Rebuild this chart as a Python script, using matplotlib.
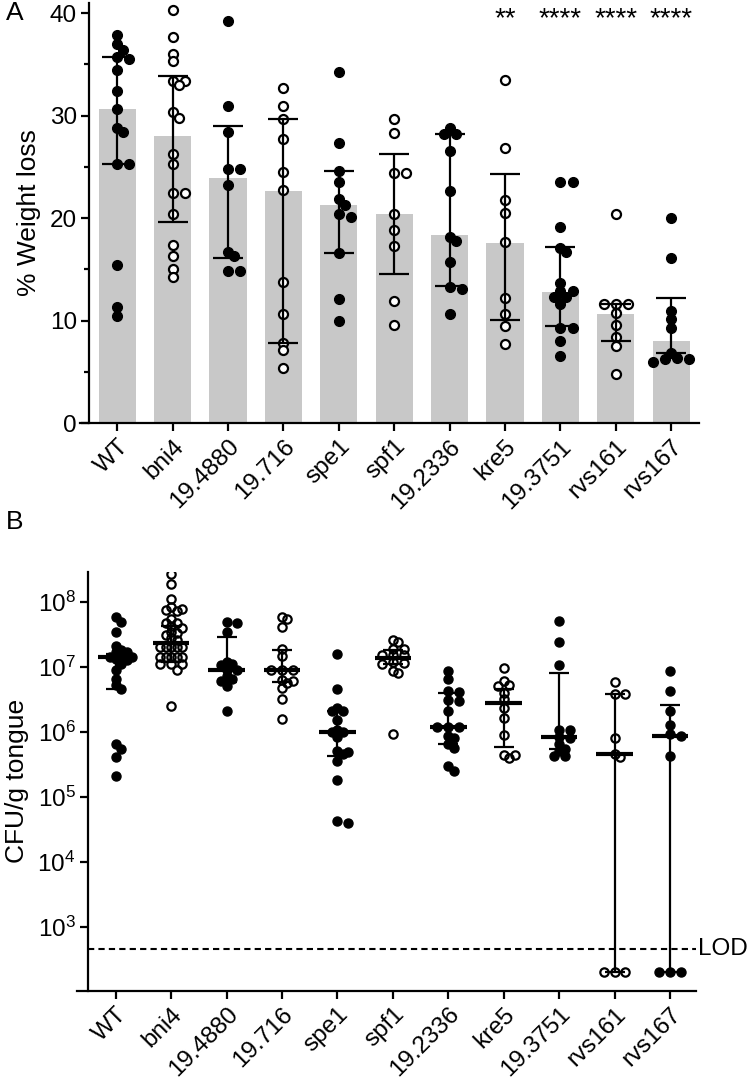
import numpy as np
import matplotlib
matplotlib.use('Agg')
import matplotlib.pyplot as plt
from matplotlib.ticker import MultipleLocator, NullLocator

plt.rcParams['font.family'] = ['Liberation Sans', 'DejaVu Sans']
plt.rcParams['mathtext.fontset'] = 'custom'
plt.rcParams['mathtext.rm'] = 'Liberation Sans'
plt.rcParams['mathtext.it'] = 'Liberation Sans:italic'

strains = ['WT', 'bni4', '19.4880', '19.716', 'spe1', 'spf1',
           '19.2336', 'kre5', '19.3751', 'rvs161', 'rvs167']
filled = [True, False, True, False, True, False, True, False, True, False, True]

# panel A: % weight loss per mouse
loss_wt = [37.9, 37.0, 36.4, 35.7, 35.5, 34.5, 32.4, 30.7, 28.8, 28.4, 25.3, 25.3, 15.4, 11.3, 10.4]
loss_bni4 = [40.3, 37.7, 36.0, 35.3, 33.4, 33.4, 33.0, 30.4, 29.8, 26.3, 25.3, 22.5, 22.5,
             20.4, 17.4, 16.3, 15.0, 14.3]
loss_4880 = [39.2, 30.9, 28.4, 24.8, 24.8, 23.2, 16.7, 16.3, 14.8, 14.8]
loss_716 = [32.7, 30.9, 29.7, 27.7, 24.5, 22.7, 13.8, 10.6, 7.8, 7.1, 5.4]
loss_spe1 = [34.3, 27.3, 24.6, 23.5, 21.9, 21.3, 20.4, 20.1, 16.6, 12.1, 10.0]
loss_spf1 = [29.7, 28.3, 24.4, 24.4, 20.4, 18.8, 17.3, 11.9, 9.6]
loss_2336 = [28.8, 28.2, 28.2, 26.6, 22.6, 18.2, 17.8, 15.7, 13.3, 13.1, 10.6]
loss_kre5 = [33.5, 26.8, 21.8, 20.5, 17.7, 12.2, 10.6, 9.5, 7.7]
loss_3751 = [23.5, 23.5, 19.1, 17.1, 16.7, 13.7, 12.9, 12.9, 12.3, 12.3, 11.6, 9.3, 9.3, 8.0, 6.5]
loss_rvs161 = [20.4, 11.6, 11.6, 11.6, 10.7, 9.6, 8.4, 7.5, 4.8]
loss_rvs167 = [20.0, 16.1, 10.9, 10.2, 9.3, 6.8, 6.2, 6.0, 6.2, 6.3]
loss_points = [loss_wt, loss_bni4, loss_4880, loss_716, loss_spe1, loss_spf1,
               loss_2336, loss_kre5, loss_3751, loss_rvs161, loss_rvs167]
loss_bar = [30.7, 28.0, 23.9, 22.6, 21.3, 20.4, 18.4, 17.6, 12.8, 10.6, 8.0]
loss_lo = [25.3, 19.6, 16.1, 7.8, 16.6, 14.5, 13.4, 10.1, 9.5, 8.0, 6.8]
loss_hi = [35.7, 33.9, 29.0, 29.7, 24.6, 26.3, 28.2, 24.3, 17.2, 11.6, 12.2]
stars = ['', '', '', '', '', '', '', '**', '****', '****', '****']

# panel B: CFU/g tongue per mouse
cfu_wt = [5.9e7, 4.9e7, 3.4e7, 2.1e7, 1.8e7, 1.7e7, 1.7e7, 1.4e7, 1.4e7, 1.4e7, 1.3e7,
          1.26e7, 1.1e7, 9.1e6, 6.6e6, 5.2e6, 4.5e6, 6.5e5, 5.4e5, 4.1e5, 2.1e5]
cfu_bni4 = [2.7e8, 1.9e8, 1.1e8, 8.3e7, 7.9e7, 7.6e7, 7.2e7, 5.5e7, 4.8e7, 4.8e7, 4.3e7,
            4.0e7, 3.5e7, 3.3e7, 3.1e7, 2.8e7, 2.6e7, 2.0e7, 2.0e7, 2.0e7, 2.0e7, 2.0e7,
            1.4e7, 1.4e7, 1.4e7, 1.4e7, 1.4e7, 1.1e7, 1.1e7, 1.1e7, 9.1e6, 2.5e6]
cfu_4880 = [4.9e7, 4.8e7, 3.5e7, 1.2e7, 1.1e7, 1.07e7, 8.9e6, 8.9e6, 7.2e6, 6.6e6, 6.0e6,
            5.0e6, 2.1e6]
cfu_716 = [5.8e7, 5.4e7, 4.1e7, 1.9e7, 1.45e7, 9.1e6, 9.1e6, 9.1e6, 6.3e6, 6.0e6, 5.6e6,
           4.7e6, 3.2e6, 1.6e6]
cfu_spe1 = [1.6e7, 4.6e6, 2.3e6, 2.1e6, 2.1e6, 1.5e6, 1.07e6, 1.0e6, 1.0e6, 8.3e5, 5.0e5,
            4.9e5, 4.6e5, 3.6e5, 1.8e5, 4.2e4, 4.0e4]
cfu_spf1 = [2.6e7, 2.45e7, 1.9e7, 1.85e7, 1.5e7, 1.5e7, 1.5e7, 1.17e7, 1.15e7, 1.12e7,
            8.5e6, 7.9e6, 9.1e5]
cfu_2336 = [8.7e6, 6.6e6, 4.2e6, 4.1e6, 3.1e6, 3.0e6, 2.1e6, 1.17e6, 1.17e6, 1.17e6,
            8.7e5, 8.1e5, 6.5e5, 5.6e5, 3.0e5, 2.5e5]
cfu_kre5 = [9.5e6, 6.0e6, 5.2e6, 5.1e6, 4.0e6, 3.2e6, 2.3e6, 1.66e6, 8.9e5, 4.4e5, 4.4e5, 4.0e5]
cfu_3751 = [5.0e7, 2.4e7, 1.05e7, 1.05e6, 1.05e6, 8.3e5, 7.9e5, 6.5e5, 5.4e5, 5.1e5, 4.2e5, 4.2e5]
cfu_rvs161 = [5.8e6, 3.8e6, 3.8e6, 8.1e5, 4.5e5, 4.1e5, 200, 200, 200]
cfu_rvs167 = [8.7e6, 4.3e6, 2.1e6, 1.26e6, 9.1e5, 8.7e5, 4.2e5, 200, 200, 200]
cfu_points = [cfu_wt, cfu_bni4, cfu_4880, cfu_716, cfu_spe1, cfu_spf1,
              cfu_2336, cfu_kre5, cfu_3751, cfu_rvs161, cfu_rvs167]
cfu_med = [1.4e7, 2.3e7, 8.9e6, 9.1e6, 1.0e6, 1.35e7, 1.2e6, 2.75e6, 8.3e5, 4.6e5, 8.5e5]
cfu_lo = [4.5e6, 1.2e7, 5.9e6, 5.9e6, 4.3e5, 1.1e7, 6.6e5, 5.8e5, 5.4e5, 200, 200]
cfu_hi = [1.6e7, 4.2e7, 2.9e7, 1.8e7, 2.1e6, 1.8e7, 3.9e6, 4.6e6, 8.1e6, 3.8e6, 2.6e6]
lod = 450

FS = 17.5


def swarm(ax, x0, vals, dia, step_f=0.6, hit_f=0.8, max_k=3):
    # simple beeswarm in pixel space, returns x positions in data units
    pts = ax.transData.transform(np.column_stack([np.full(len(vals), x0), vals]))
    ys = pts[:, 1]
    ppu = ax.transData.transform([[1, 0]])[0, 0] - ax.transData.transform([[0, 0]])[0, 0]
    step = dia * step_f
    cands = [0]
    for k in range(1, max_k + 1):
        cands += [k, -k]
    placed = []
    offs = np.zeros(len(vals))
    for i in np.argsort(-ys, kind='stable'):
        best, best_d = 0, -1
        for k in cands:
            dx = k * step
            d = min([np.hypot(dx - px, ys[i] - py) for px, py in placed] + [1e9])
            if d >= dia * hit_f:
                best = dx
                break
            if d > best_d:
                best, best_d = dx, d
        offs[i] = best
        placed.append((best, ys[i]))
    return x0 + offs / ppu


def style_axis(ax):
    ax.spines['top'].set_visible(False)
    ax.spines['right'].set_visible(False)
    ax.spines['left'].set_linewidth(1.6)
    ax.spines['bottom'].set_linewidth(1.6)
    ax.spines['left'].set_position(('data', -0.5))
    ax.tick_params(which='major', direction='out', length=6, width=1.6, labelsize=FS, pad=3)
    ax.tick_params(which='minor', direction='out', length=3.5, width=1.6)
    ax.set_xticks(x)
    ax.set_xticklabels(strains, rotation=45, ha='right', rotation_mode='anchor')


x = np.arange(len(strains))
fig = plt.figure(figsize=(7.5, 10.84), dpi=100)

# ---------- A ----------
axA = fig.add_axes([80 / 750, 1 - 423 / 1084, 619 / 750, 420 / 1084])
axA.set_xlim(-0.67, 10.5)
axA.set_ylim(0, 41)
style_axis(axA)
axA.yaxis.set_major_locator(MultipleLocator(10))
axA.yaxis.set_minor_locator(MultipleLocator(5))
axA.bar(x, loss_bar, width=0.67, color='#c8c8c8', zorder=1)
axA.errorbar(x, loss_bar, yerr=[np.array(loss_bar) - loss_lo, np.array(loss_hi) - loss_bar],
             fmt='none', ecolor='k', elinewidth=1.6, capsize=10.5, capthick=1.6, zorder=3)
msA = 7
for i in range(len(strains)):
    xs = swarm(axA, x[i], loss_points[i], msA * 100 / 72, 0.62, 0.7)
    if filled[i]:
        axA.plot(xs, loss_points[i], 'o', ms=msA, color='k', mec='k', zorder=2)
    else:
        axA.plot(xs, loss_points[i], 'o', ms=msA - 0.5, mfc='white', mec='k', mew=1.6, zorder=2)
    if stars[i]:
        axA.text(x[i], 39.4, stars[i], ha='center', va='center', fontsize=20)
axA.set_ylabel('% Weight loss', fontsize=19, labelpad=6)

# ---------- B ----------
axB = fig.add_axes([77 / 750, 1 - 990.7 / 1084, 619 / 750, 418.7 / 1084])
axB.set_yscale('log')
axB.set_ylim(10 ** 2.015, 10 ** 8.46)
axB.set_xlim(-0.7, 10.47)
style_axis(axB)
axB.set_yticks([1e3, 1e4, 1e5, 1e6, 1e7, 1e8])
axB.set_yticklabels([r'$\mathregular{10^{%d}}$' % n for n in range(3, 9)])
axB.yaxis.set_minor_locator(NullLocator())
axB.plot([-0.5, 10.47], [lod, lod], color='k', ls='--', lw=1.5, dashes=(3, 2), zorder=1)
axB.text(10.5, lod, 'LOD', ha='left', va='center', fontsize=FS, clip_on=False)
msB = 6.5
for i in range(len(strains)):
    xs = swarm(axB, x[i], cfu_points[i], msB * 100 / 72, 0.6, 0.62)
    if filled[i]:
        axB.plot(xs, cfu_points[i], 'o', ms=msB, color='k', zorder=2)
    else:
        axB.plot(xs, cfu_points[i], 'o', ms=msB - 0.5, mfc='none', mec='k', mew=1.6, zorder=2)
axB.errorbar(x, cfu_med, yerr=[np.array(cfu_med) - cfu_lo, np.array(cfu_hi) - cfu_med],
             fmt='none', ecolor='k', elinewidth=1.6, capsize=7.5, capthick=1.6, zorder=3)
axB.hlines(cfu_med, x - 0.33, x + 0.33, color='k', lw=3, zorder=3)
axB.set_ylabel('CFU/g tongue', fontsize=19, labelpad=6)

fig.text(6 / 750, 1 - 13 / 1084, 'A', fontsize=19, ha='left', va='center')
fig.text(6 / 750, 1 - 522 / 1084, 'B', fontsize=19, ha='left', va='center')

plt.savefig('out.png', dpi=100)
